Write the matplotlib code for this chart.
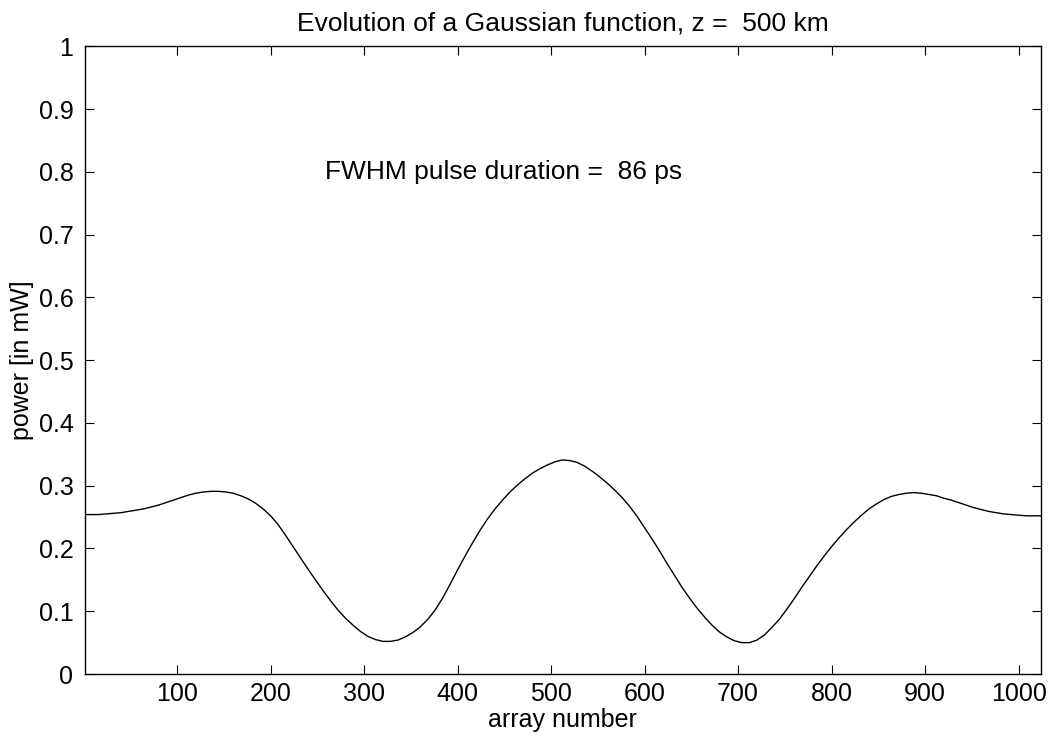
import matplotlib
matplotlib.use("Agg")
import matplotlib.pyplot as plt

# values, every 8th array element (power in mW)
array_idx = [1] + list(range(8, 1025, 8))
power = [
    0.254, 0.254, 0.254, 0.255, 0.256, 0.257, 0.259, 0.261, 0.263, 0.266,   # 1 .. 72
    0.269, 0.273, 0.277, 0.281, 0.285, 0.288, 0.290, 0.291, 0.291, 0.290,   # 80 .. 152
    0.288, 0.284, 0.279, 0.272, 0.263, 0.252, 0.238, 0.221, 0.203, 0.185,   # 160 .. 232
    0.167, 0.150, 0.133, 0.117, 0.102, 0.089, 0.078, 0.068, 0.060, 0.055,   # 240 .. 312
    0.052, 0.052, 0.054, 0.059, 0.066, 0.075, 0.087, 0.102, 0.121, 0.143,   # 320 .. 392
    0.166, 0.188, 0.209, 0.229, 0.247, 0.263, 0.277, 0.290, 0.301, 0.311,   # 400 .. 472
    0.320, 0.327, 0.333, 0.338, 0.341, 0.340, 0.337, 0.331, 0.323, 0.314,   # 480 .. 552
    0.304, 0.293, 0.281, 0.267, 0.251, 0.233, 0.215, 0.196, 0.176, 0.157,   # 560 .. 632
    0.138, 0.121, 0.105, 0.091, 0.078, 0.067, 0.059, 0.053, 0.050, 0.050,   # 640 .. 712
    0.054, 0.062, 0.074, 0.087, 0.103, 0.120, 0.138, 0.155, 0.172, 0.188,   # 720 .. 792
    0.203, 0.217, 0.230, 0.242, 0.253, 0.263, 0.271, 0.278, 0.283, 0.286,   # 800 .. 872
    0.288, 0.289, 0.288, 0.286, 0.284, 0.280, 0.277, 0.273, 0.269, 0.265,   # 880 .. 952
    0.262, 0.259, 0.257, 0.255, 0.254, 0.253, 0.252, 0.252, 0.252,          # 960 .. 1024
]

xticks = [100, 200, 300, 400, 500, 600, 700, 800, 900, 1000]
yticks = [0, 0.1, 0.2, 0.3, 0.4, 0.5, 0.6, 0.7, 0.8, 0.9, 1]
ytick_labels = ["0", "0.1", "0.2", "0.3", "0.4", "0.5", "0.6", "0.7", "0.8", "0.9", "1"]

plt.rcParams['font.family'] = ['Liberation Sans', 'DejaVu Sans']

fig = plt.figure(figsize=(10.62, 7.36), dpi=100)
ax = fig.add_axes([0.0796, 0.0842, 0.9007, 0.853])

ax.plot(array_idx, power, color='black', linewidth=1.0)

ax.set_xlim(1, 1024)
ax.set_ylim(0, 1)
ax.set_xticks(xticks)
ax.set_yticks(yticks)
ax.set_yticklabels(ytick_labels)
ax.tick_params(direction='in', length=6.5, width=0.8, labelsize=18,
               top=True, right=True)
ax.tick_params(axis='x', pad=6)
ax.tick_params(axis='y', pad=8)
for s in ax.spines.values():
    s.set_linewidth(1.0)

ax.set_title('Evolution of a Gaussian function, z =  500 km', fontsize=19, pad=11)
ax.set_xlabel('array number', fontsize=18, labelpad=1)
ax.set_ylabel('power [in mW]', fontsize=18, labelpad=3)
ax.text(258, 0.8, 'FWHM pulse duration =  86 ps', fontsize=19, va='center', ha='left')

fig.savefig('out.png', dpi=100)
